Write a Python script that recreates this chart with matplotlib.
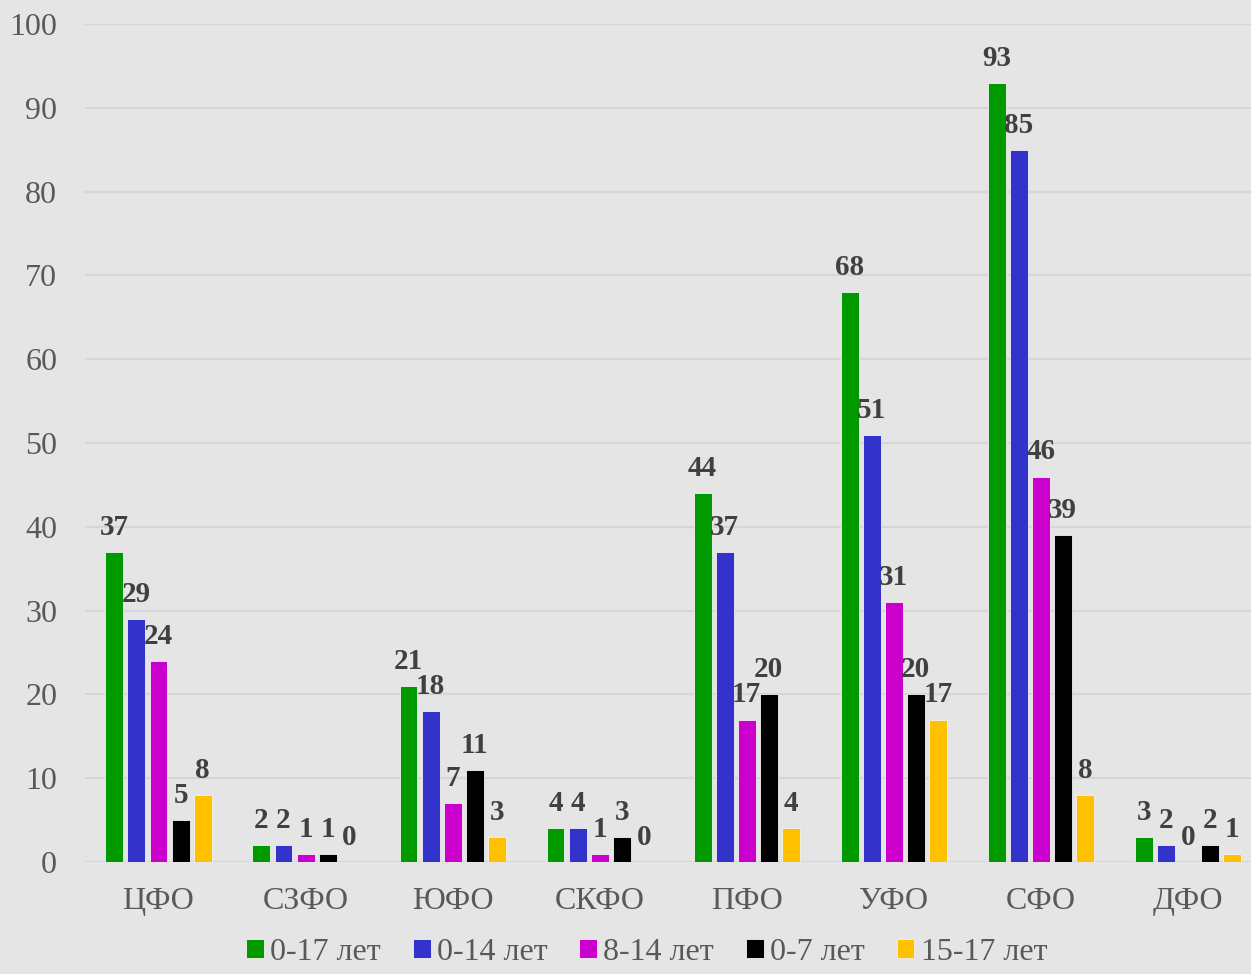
import numpy as np
import matplotlib
matplotlib.use('Agg')
from matplotlib import pyplot as plt

# данные
regions = ['ЦФО', 'СЗФО', 'ЮФО', 'СКФО', 'ПФО', 'УФО', 'СФО', 'ДФО']
ages = ['0-17 лет', '0-14 лет', '8-14 лет', '0-7 лет', '15-17 лет']
v_0_17 = [37, 2, 21, 4, 44, 68, 93, 3]
v_0_14 = [29, 2, 18, 4, 37, 51, 85, 2]
v_8_14 = [24, 1, 7, 1, 17, 31, 46, 0]
v_0_7 = [5, 1, 11, 3, 20, 20, 39, 2]
v_15_17 = [8, 0, 3, 0, 4, 17, 8, 1]
series = [v_0_17, v_0_14, v_8_14, v_0_7, v_15_17]
colors = ['#009900', '#3333cc', '#cc00cc', '#000000', '#ffc000']

plt.rcParams['font.family'] = ['Liberation Serif', 'DejaVu Serif']

fig = plt.figure(figsize=(12.51, 9.74), dpi=100, facecolor='#e5e5e5')
ax = fig.add_axes([85/1251, 112/974, (1251-85)/1251, 838/974])
ax.set_facecolor('#e5e5e5')

x = np.arange(len(regions))
step = 0.15
width = 0.122
for i, (vals, c, name) in enumerate(zip(series, colors, ages)):
    pos = x + (i - 2) * step
    ax.bar(pos, vals, width, color=c, edgecolor='#f2f2f2', linewidth=0.6, label=name, zorder=3)
    for xp, v in zip(pos, vals):
        ax.annotate(str(v), (xp, v), xytext=(0, 8), textcoords='offset points',
                    ha='center', va='bottom', fontsize=21, fontweight='bold', color='#404040')

ax.set_xlim(-0.5, 7.43)
ax.set_ylim(0, 100)
ax.set_yticks(range(0, 101, 10))
ax.set_xticks(x)
ax.set_xticklabels(regions)
ax.grid(axis='y', color='#d6d6d6', linewidth=1.5, zorder=0)
ax.tick_params(axis='y', length=0, pad=20, labelsize=23, labelcolor='#595959')
ax.tick_params(axis='x', length=0, pad=18, labelsize=23, labelcolor='#595959')
for s in ax.spines.values():
    s.set_visible(False)

fig.legend(loc='lower center', bbox_to_anchor=(0.517, -0.022), ncol=5, frameon=False,
           fontsize=23, labelcolor='#595959', handlelength=0.55, handleheight=0.55,
           handletextpad=0.2, columnspacing=1.0)

plt.savefig('out.png', dpi=100, facecolor='#e5e5e5')
